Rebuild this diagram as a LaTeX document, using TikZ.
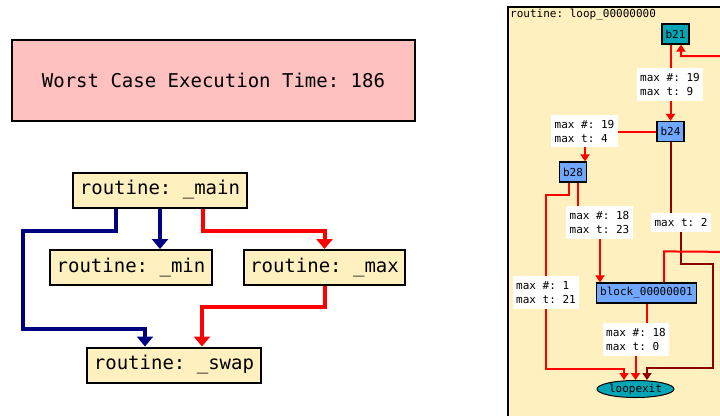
\documentclass[tikz,border=0pt]{standalone}
\usepackage{fontspec}
\setmonofont{DejaVu Sans Mono}
\usepackage{xcolor}
\usepackage{tikz}
\usetikzlibrary{arrows.meta,shapes.geometric}
\definecolor{hong}{RGB}{255,192,192}
\definecolor{vang}{RGB}{255,240,192}
\definecolor{xanhla}{RGB}{0,165,182}
\definecolor{xanh}{RGB}{112,168,255}
\definecolor{dodam}{RGB}{140,0,0}

\begin{document}
\begin{tikzpicture}[x=1pt,y=-1pt,
	hop/.style={draw=black,line width=2pt,fill=vang,inner xsep=6.5pt,minimum height=35pt,font=\ttfamily\fontsize{19}{22}\selectfont},
	khoi/.style={draw=black,line width=1.2pt,inner xsep=3.5pt,inner ysep=0pt,minimum height=20pt,font=\ttfamily\fontsize{11}{13}\selectfont},
	nhan/.style={fill=white,align=left,inner xsep=3.3pt,inner ysep=5pt,font=\ttfamily\fontsize{11}{14}\selectfont},
	xanhduong/.style={draw={rgb,255:red,0;green,0;blue,128},line width=4pt,-{Triangle[width=16pt,length=10pt]}},
	doto/.style={draw=red,line width=4pt,-{Triangle[width=16pt,length=10pt]}},
	donho/.style={draw=red,line width=2pt,-{Triangle[width=9pt,length=7pt]}},
	dodamnho/.style={draw=dodam,line width=2pt,-{Triangle[width=9pt,length=7pt]}}]
			\useasboundingbox (0,0) rectangle (720,415);
			\clip (0,0) rectangle (720,415);
			% Vẽ các hộp bên trái
			\node[draw=black,line width=2pt,fill=hong,minimum width=403pt,minimum height=81pt,font=\ttfamily\fontsize{19}{22}\selectfont] (wcet) at (213.5,80.5) {Worst Case Execution Time: 186};
			\node[hop] (main) at (160,190) {routine: \_main};
			\node[hop] (min) at (131,267.5) {routine: \_min};
			\node[hop] (max) at (324.5,267.5) {routine: \_max};
			\node[hop] (swap) at (174,365) {routine: \_swap};
			% Vẽ các cạnh bên trái
			\draw[xanhduong] ([xshift=-44pt]main.south) -- ++(0,22) -- ++(-93,0) -- ++(0,98) -| ([xshift=-29pt]swap.north);
			\draw[xanhduong] (main.south) -- (main.south |- min.north);
			\draw[doto] ([xshift=43pt]main.south) -- ++(0,22) -| (max.north);
			\draw[doto] (max.south) -- ++(0,21) -| ([xshift=28pt]swap.north);
			% Vẽ khung vòng lặp
			\draw[line width=1.2pt,fill=vang] (508,7) rectangle (760,460);
			\node[anchor=north west,inner sep=0pt,font=\ttfamily\fontsize{11}{13}\selectfont] (ten) at (510,9) {routine: loop\_00000000};
			\node[khoi,fill=xanhla] (b21) at (675.5,34) {b21};
			\node[khoi,fill=xanh] (b24) at (670.5,131.5) {b24};
			\node[khoi,fill=xanh] (b28) at (573,172) {b28};
			\node[khoi,fill=xanh] (blk) at (646.5,293) {block\_00000001};
			\node[ellipse,draw=black,line width=1pt,fill=xanhla,minimum width=77pt,minimum height=17pt,inner sep=0pt,font=\ttfamily\fontsize{11}{13}\selectfont] (exit) at (635.5,389) {loopexit};
			\coordinate (c1) at (670,84.5);
			\coordinate (c2) at (584.5,131);
			\coordinate (c3) at (546,292.5);
			\coordinate (c4) at (599.5,222.5);
			\coordinate (c5) at (681,222.5);
			\coordinate (c6) at (636,339.5);
			% Vẽ các cạnh bên phải
			\draw[donho] (b21.south -| b24.north) -- (b24.north);
			\draw[donho] (b24.west) -| ([xshift=12pt]b28.north);
			\draw[donho] ([xshift=-4pt]b28.south) -- ++(0,12) -- ++(-23,0) -- ++(0,174) -| ([xshift=-11.5pt]exit.north);
			\draw[donho] ([xshift=5pt]b28.south) |- (c4) -| ([xshift=-46.5pt]blk.north);
			\draw[dodamnho] (b24.south) |- (c5) -- ++(0,41.5) -- ++(32,0) -- ++(0,104) -| ([xshift=11.5pt]exit.north);
			\draw[donho] ([xshift=17.5pt]blk.north) -- ++(0,-31) -- (740,252) -- (740,56) -| ([xshift=5.5pt]b21.south);
			\draw[donho] (blk.south) |- (c6) -| (exit.north);
			% Vẽ các nhãn
			\node[nhan] (n1) at (c1) {max \#: 19\\max t: 9};
			\node[nhan] (n2) at (c2) {max \#: 19\\max t: 4};
			\node[nhan] (n3) at (c3) {max \#: 1\\max t: 21};
			\node[nhan] (n4) at (c4) {max \#: 18\\max t: 23};
			\node[nhan] (n5) at (c5) {max t: 2};
			\node[nhan] (n6) at (c6) {max \#: 18\\max t: 0};
		\end{tikzpicture}
\end{document}
